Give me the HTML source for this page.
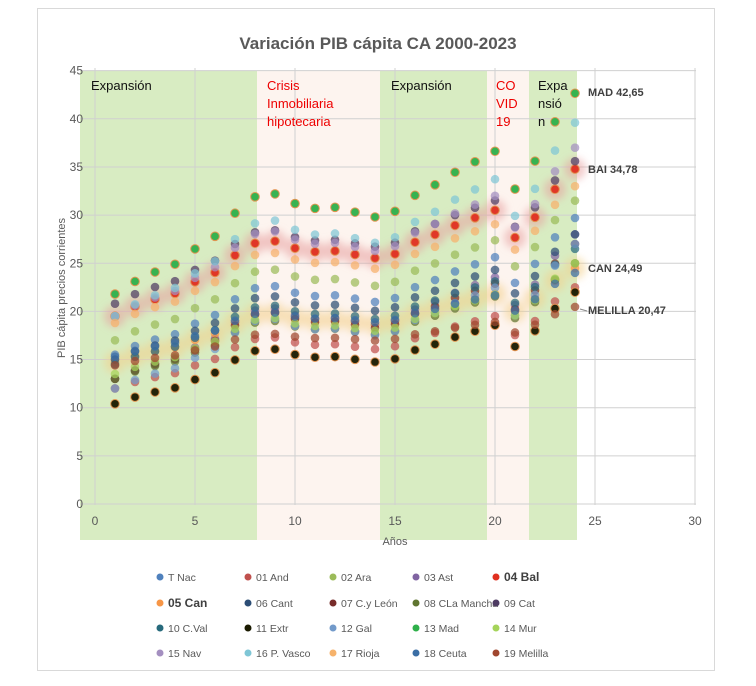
<!DOCTYPE html>
<html><head><meta charset="utf-8"><style>
body{margin:0;background:#fff;font-family:"Liberation Sans",sans-serif;}
</style></head><body>
<svg id="s" width="756" height="681" xmlns="http://www.w3.org/2000/svg" font-family="Liberation Sans, sans-serif">
<defs><filter id="b" x="-1" y="-1" width="3" height="3"><feGaussianBlur stdDeviation="4"/></filter></defs>
<rect x="0" y="0" width="756" height="681" fill="#fff"/>
<rect x="37.5" y="8.5" width="677" height="662" fill="none" stroke="#d9d9d9"/>
<text x="378" y="49" text-anchor="middle" font-size="17" font-weight="bold" fill="#595959">Variación PIB cápita CA 2000-2023</text>
<g id="bands">
<rect x="80" y="71" width="177" height="469" fill="#d8ecc2"/>
<rect x="257" y="71" width="123" height="469" fill="#fdf4ef"/>
<rect x="380" y="71" width="107" height="469" fill="#d8ecc2"/>
<rect x="487" y="71" width="42" height="469" fill="#fdf4ef"/>
<rect x="529" y="71" width="48" height="469" fill="#d8ecc2"/>
</g>
<g id="grid" stroke="#d0d0d0" stroke-width="1"></g>
<g id="lab" font-size="12" fill="#595959"></g>
<g font-size="13">
<text x="91" y="90" fill="#111">Expansión</text>
<text x="267" y="90" fill="#e00">Crisis</text>
<text x="267" y="108" fill="#e00">Inmobiliaria</text>
<text x="267" y="126" fill="#e00">hipotecaria</text>
<text x="391" y="90" fill="#111">Expansión</text>
<text x="496" y="90" fill="#e00">CO</text>
<text x="496" y="108" fill="#e00">VID</text>
<text x="496" y="126" fill="#e00">19</text>
<text x="538" y="90" fill="#111">Expa</text>
<text x="538" y="108" fill="#111">nsió</text>
<text x="538" y="126" fill="#111">n</text>
</g>
<g id="glow" filter="url(#b)"></g>
<g id="pts"></g>
<g font-size="11" font-weight="bold" fill="#404040">
<text x="588" y="96">MAD 42,65</text>
<text x="588" y="173">BAI 34,78</text>
<text x="588" y="272">CAN 24,49</text>
<line x1="580" y1="309" x2="587" y2="311" stroke="#888"/>
<text x="588" y="314">MELILLA 20,47</text>
</g>
<text transform="translate(65,288) rotate(-90)" text-anchor="middle" font-size="11" fill="#595959">PIB cápita precios corrientes</text>
<text x="395" y="545" text-anchor="middle" font-size="11" fill="#595959">Años</text>
<g id="leg" font-size="10.5" fill="#595959"></g>
</svg>
<script>
var NS="http://www.w3.org/2000/svg";
function el(p,t,a,txt){var e=document.createElementNS(NS,t);for(var k in a)e.setAttribute(k,a[k]);if(txt)e.textContent=txt;document.getElementById(p).appendChild(e);return e;}
var X=function(v){return 95+20*v},Y=function(v){return 504-9.63*v};
for(var i=0;i<=45;i+=5){el("grid","line",{x1:80,x2:696,y1:Y(i),y2:Y(i)});el("lab","text",{x:83,y:Y(i)+4,"text-anchor":"end"},String(i));}
for(var i=0;i<=30;i+=5){el("grid","line",{x1:X(i),x2:X(i),y1:68,y2:505});el("lab","text",{x:X(i),y:525,"text-anchor":"middle"},String(i));}
var f=[1,1.06,1.105,1.142,1.215,1.275,1.385,1.463,1.477,1.431,1.408,1.413,1.39,1.367,1.394,1.47,1.52,1.58,1.63,1.68,1.5,1.633,1.82,1.956];
var S=[
["T Nac","#4f81bd",15.5,29.7],["01 And","#c0504d",12,22.5],["02 Ara","#9bbb59",17,31.5],["03 Ast","#8064a2",13,28],
["04 Bal","#e03020",19.5,34.78],["05 Can","#f79646",14.7,24.49],["06 Cant","#2c4d75",15,28],["07 C.y León","#772c2a",13,27],
["08 CLa Mancha","#5f7530",13,25],["09 Cat","#4d3b62",20.8,35.6],["10 C.Val","#276a7c",14.5,26.5],["11 Extr","#1a1a00",10.4,22],
["12 Gal","#729aca",12,27],["13 Mad","#2eb04a",21.8,42.65],["14 Mur","#a5d45a",13.5,25],["15 Nav","#a48fc0",19.5,37],
["16 P. Vasco","#7fc6d6",19.5,39.6],["17 Rioja","#f6b26b",18.8,33],["18 Ceuta","#3a6ea5",15.3,24],["19 Melilla","#a0462e",14.4,20.47]];
var lf=Math.log(1.956);
S.forEach(function(s,j){var k=Math.log(s[3]/s[2])/lf;
 for(var i=0;i<24;i++){var v=s[2]*Math.pow(f[i],k);var cx=X(i+1),cy=Y(v);
  if(j==4)el("glow","circle",{cx:cx,cy:cy,r:11,fill:"#e8a0a0",opacity:0.55});
  if(j==5)el("glow","circle",{cx:cx,cy:cy,r:11,fill:"#f3d08a",opacity:0.55});
  var a={cx:cx,cy:cy,r:4.3,fill:s[1],opacity:0.72};
  if(j==13||j==11||j==4){a.stroke="#e3904a";a["stroke-width"]=1;a.opacity=0.95;}
  el("pts","circle",a);}
});
var cols=[160,248,333,416,496],rows=[577,603,628,653];
S.forEach(function(s,j){var c=cols[j%5],r=rows[Math.floor(j/5)];
 el("leg","circle",{cx:c,cy:r,r:3.5,fill:s[1]});
 var t=el("leg","text",{x:c+8,y:r+4},s[0]);
 if(j==4||j==5){t.setAttribute("font-weight","bold");t.setAttribute("font-size","12");t.setAttribute("fill","#404040");}
});
</script>
</body></html>
